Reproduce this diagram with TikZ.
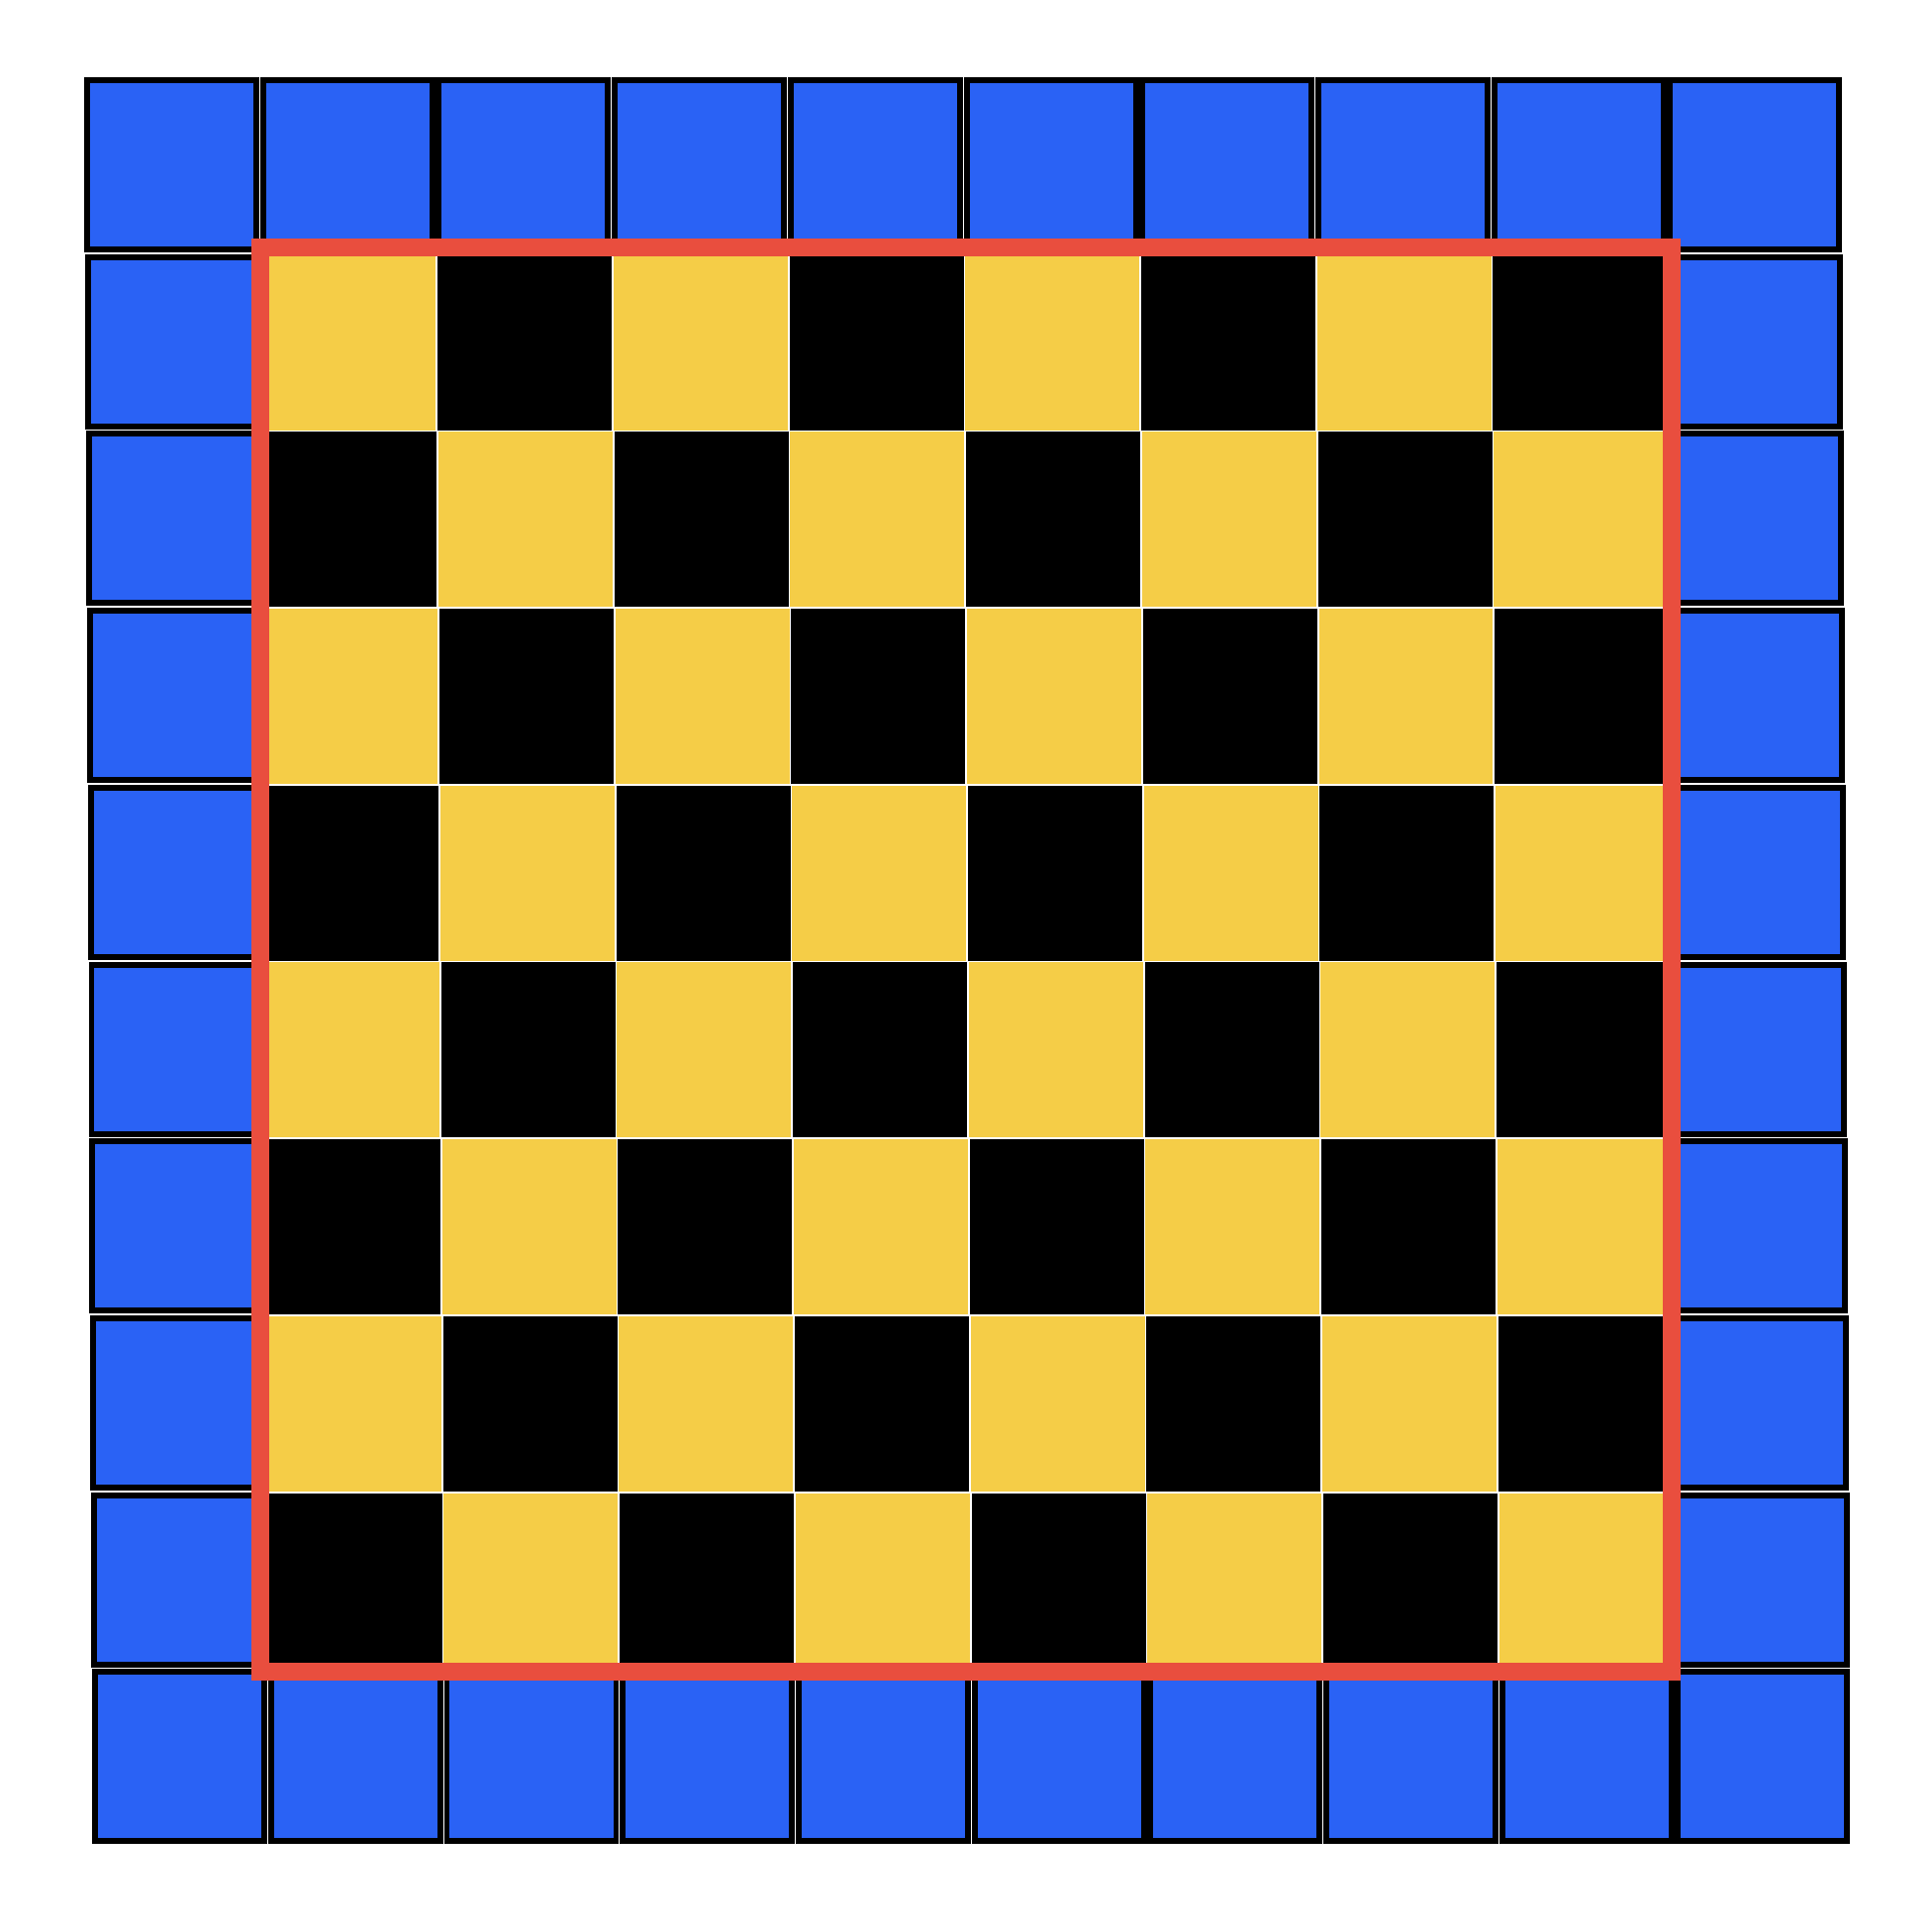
\documentclass[tikz,border=0pt]{standalone}
\definecolor{tileblue}{HTML}{2A62F5}
\definecolor{tileyellow}{HTML}{F5CD47}
\definecolor{framered}{HTML}{E94E3E}
\tikzset{
  edgecell/.style={fill=tileblue, draw=black, line width=1.7pt},
  lightcell/.style={fill=tileyellow, draw=white, line width=0.5pt},
  darkcell/.style={fill=black, draw=white, line width=0.5pt},
  redframe/.style={draw=framered, line width=5.1pt},
}
\begin{document}
\begin{tikzpicture}[x=0.01cm,y=-0.01cm]
\useasboundingbox (0,0) rectangle (1952,1948);
% board squares
\foreach \r in {1,...,8}{
  \foreach \c in {1,...,8}{
    \pgfmathsetmacro\xa{85+\c*177.7+\r*0.9}
    \pgfmathsetmacro\ya{78+\r*178.7}
    \pgfmathtruncatemacro\odd{mod(\r+\c,2)}
    \ifnum\odd=0
      \draw[lightcell] (\xa,\ya) rectangle ++(177.7,178.7);
    \else
      \draw[darkcell] (\xa,\ya) rectangle ++(177.7,178.7);
    \fi
  }
}
% blue ring
\foreach \r in {0,...,9}{
  \foreach \c in {0,...,9}{
    \pgfmathtruncatemacro\edge{(\r==0)||(\r==9)||(\c==0)||(\c==9)}
    \ifnum\edge=1
      \pgfmathsetmacro\xa{85+\c*177.7+\r*0.9}
      \pgfmathsetmacro\ya{78+\r*178.7}
      \draw[edgecell] (\xa+3,\ya+3) rectangle ++(171,171);
    \fi
  }
}
% frame
\draw[redframe] (263,250) rectangle (1689,1689);
\end{tikzpicture}
\end{document}
